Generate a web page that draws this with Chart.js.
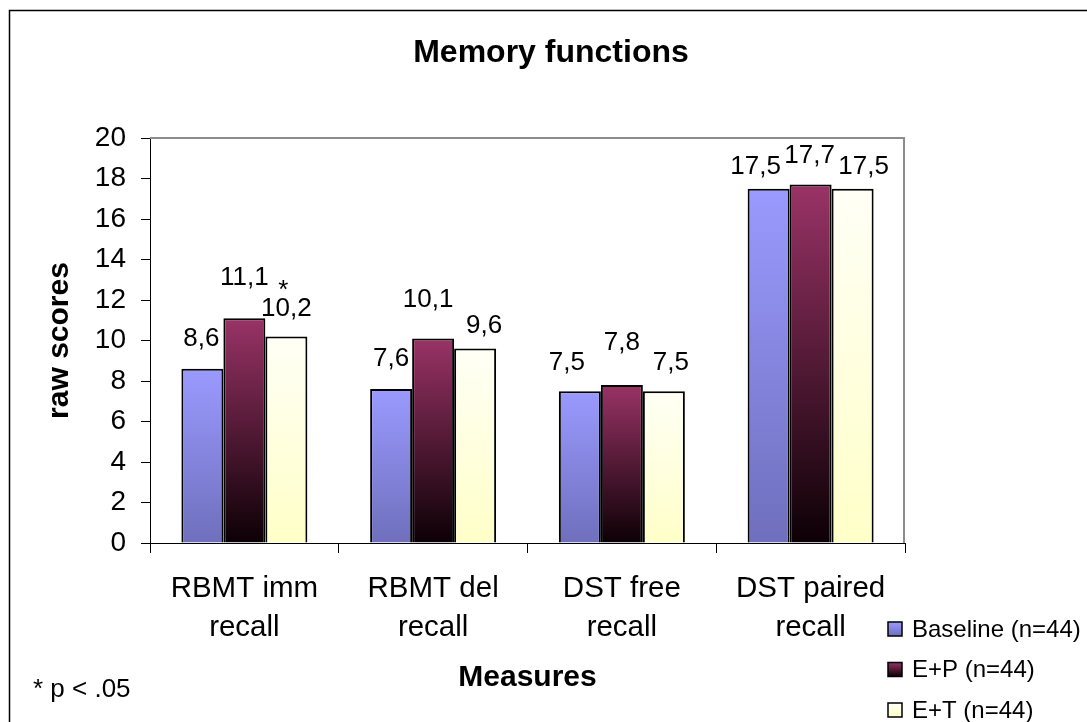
<!DOCTYPE html>
<html>
<head>
<meta charset="utf-8">
<script src="https://cdn.jsdelivr.net/npm/chart.js@4.4.1/dist/chart.umd.min.js"></script>
<style>
  html, body { margin: 0; padding: 0; background: #fff; overflow: hidden; }
  #wrap { position: relative; width: 1087px; height: 722px; }
</style>
</head>
<body>
<div id="wrap"><canvas id="c"></canvas></div>
<script>
// ---- data ----
const categories = [['RBMT imm', 'recall'], ['RBMT del', 'recall'], ['DST free', 'recall'], ['DST paired', 'recall']];
const seriesNames = ['Baseline (n=44)', 'E+P (n=44)', 'E+T (n=44)'];
const baselineScores = [8.6, 7.6, 7.5, 17.5];
const epScores = [11.1, 10.1, 7.8, 17.7];
const etScores = [10.2, 9.6, 7.5, 17.5];
const etSignificant = [true, false, false, false];   // marked with "*"
const yMin = 0, yMax = 20, yStep = 2;
const footnote = '* p < .05';

// ---- styling ----
const FONT = "'Liberation Sans', Arial, Helvetica, sans-serif";
const seriesGradients = [
  ['#9a9aff', '#6f6fbd'],
  ['#993366', '#0c0005'],
  ['#fffff6', '#ffffc8']
];
// per-label nudges [dx, dy] relative to the top centre of each bar
const labelNudge = [
  [[-1, -30], [0, -30], [-13, -28], [-13, -22]],
  [[0, -40], [-5, -39], [0, -42], [-1, -29]],
  [[0, -28], [9, -23], [7, -28], [11, -22]]
];

function barFill(i) {
  return (c) => {
    const chart = c.chart;
    const y = chart.scales && chart.scales.y;
    if (!y || c.type !== 'data' || !isFinite(y.top)) return seriesGradients[i][0];
    const top = y.getPixelForValue(c.raw);
    const bot = y.getPixelForValue(0);
    const g = chart.ctx.createLinearGradient(0, top, 0, bot);
    g.addColorStop(0, seriesGradients[i][0]);
    g.addColorStop(1, seriesGradients[i][1]);
    return g;
  };
}

const fmt = v => v.toFixed(1).replace('.', ',');

const decor = {
  id: 'decor',
  beforeDraw(chart) {
    const ctx = chart.ctx;
    ctx.save();
    ctx.fillStyle = '#fff';
    ctx.fillRect(0, 0, chart.width, chart.height);
    ctx.strokeStyle = '#000';
    ctx.lineWidth = 1.5;
    ctx.strokeRect(9.5, 10.5, chart.width + 20, chart.height + 20);
    ctx.restore();
  },
  beforeDatasetsDraw(chart) {
    const { ctx, chartArea: a } = chart;
    ctx.save();
    ctx.strokeStyle = '#8c8c8c';
    ctx.lineWidth = 2;
    ctx.beginPath();
    ctx.moveTo(a.left, a.top);
    ctx.lineTo(a.right - 1, a.top);
    ctx.lineTo(a.right - 1, a.bottom);
    ctx.stroke();
    ctx.restore();
  },
  afterDatasetsDraw(chart) {
    const ctx = chart.ctx;
    ctx.save();
    ctx.fillStyle = '#000';
    ctx.font = `26px ${FONT}`;
    ctx.textAlign = 'center';
    ctx.textBaseline = 'middle';
    chart.data.datasets.forEach((ds, i) => {
      const meta = chart.getDatasetMeta(i);
      meta.data.forEach((bar, j) => {
        const [dx, dy] = labelNudge[i][j];
        const x = bar.x + dx, y = bar.y + dy;
        ctx.fillText(fmt(ds.data[j]), x, y);
        if (i === 2 && etSignificant[j]) {
          ctx.textBaseline = 'alphabetic';
          ctx.fillText('*', x - 3, y - 10);
          ctx.textBaseline = 'middle';
        }
      });
    });
    ctx.restore();
  },
  afterDraw(chart) {
    const ctx = chart.ctx;
    ctx.save();
    // legend
    ctx.font = `24px ${FONT}`;
    ctx.textAlign = 'left';
    ctx.textBaseline = 'middle';
    chart.data.datasets.forEach((ds, i) => {
      const cy = 629 + i * 40.5;
      const g = ctx.createLinearGradient(0, cy - 7, 0, cy + 7);
      g.addColorStop(0, seriesGradients[i][0]);
      g.addColorStop(1, seriesGradients[i][1]);
      ctx.fillStyle = g;
      ctx.fillRect(888, cy - 7, 14, 14);
      ctx.strokeStyle = '#000';
      ctx.lineWidth = 1.5;
      ctx.strokeRect(888, cy - 7, 14, 14);
      ctx.fillStyle = '#000';
      ctx.fillText(ds.label, 912, cy + 1);
    });
    // footnote
    ctx.font = `26px ${FONT}`;
    ctx.textBaseline = 'alphabetic';
    ctx.fillText(footnote, 33, 697);
    ctx.restore();
  }
};

const datasets = [baselineScores, epScores, etScores].map((vals, i) => ({
  label: seriesNames[i],
  data: vals,
  backgroundColor: barFill(i),
  borderColor: '#000',
  borderWidth: { top: 2, left: 2, right: 2, bottom: 0 },
  borderSkipped: false,
  barPercentage: 1.0,
  categoryPercentage: 0.6675
}));

new Chart(document.getElementById('c'), {
  type: 'bar',
  data: { labels: categories, datasets },
  plugins: [decor],
  options: {
    responsive: true,
    maintainAspectRatio: false,
    animation: false,
    events: [],
    layout: { padding: { left: 15, right: 0, top: 0, bottom: 0 } },
    plugins: {
      legend: { display: false },
      tooltip: { enabled: false },
      title: {
        display: true,
        text: 'Memory functions',
        color: '#000',
        font: { family: FONT, size: 32, weight: 'bold', lineHeight: 1.2 },
        padding: { top: 34, bottom: 65.6 }
      }
    },
    scales: {
      x: {
        grid: { display: true, drawOnChartArea: false, drawTicks: true, tickLength: 10, color: '#000', lineWidth: 1, offset: true },
        border: { display: true, color: '#000', width: 1 },
        ticks: { color: '#000', font: { family: FONT, size: 29.5, lineHeight: 1.3 }, padding: 17, maxRotation: 0, autoSkip: false },
        title: { display: true, text: 'Measures', color: '#000', font: { family: FONT, size: 30, weight: 'bold', lineHeight: 1.2 }, padding: { top: 0, bottom: 26 } },
        afterFit: s => { s.height = 179; }
      },
      y: {
        min: yMin, max: yMax,
        ticks: { stepSize: yStep, color: '#000', font: { family: FONT, size: 28 }, padding: 15 },
        grid: { drawOnChartArea: false, drawTicks: true, tickLength: 9, color: '#000' },
        border: { display: true, color: '#000', width: 1 },
        title: { display: true, text: 'raw scores', color: '#000', font: { family: FONT, size: 30, weight: 'bold', lineHeight: 1.2 }, padding: { top: 27, bottom: 0 } },
        afterFit: s => { s.width = 135; }
      },
      legendSpace: {
        type: 'linear',
        position: 'right',
        display: true,
        grid: { display: false },
        ticks: { display: false },
        border: { display: false },
        afterFit: s => { s.width = 182; }
      }
    }
  }
});
</script>
</body>
</html>
